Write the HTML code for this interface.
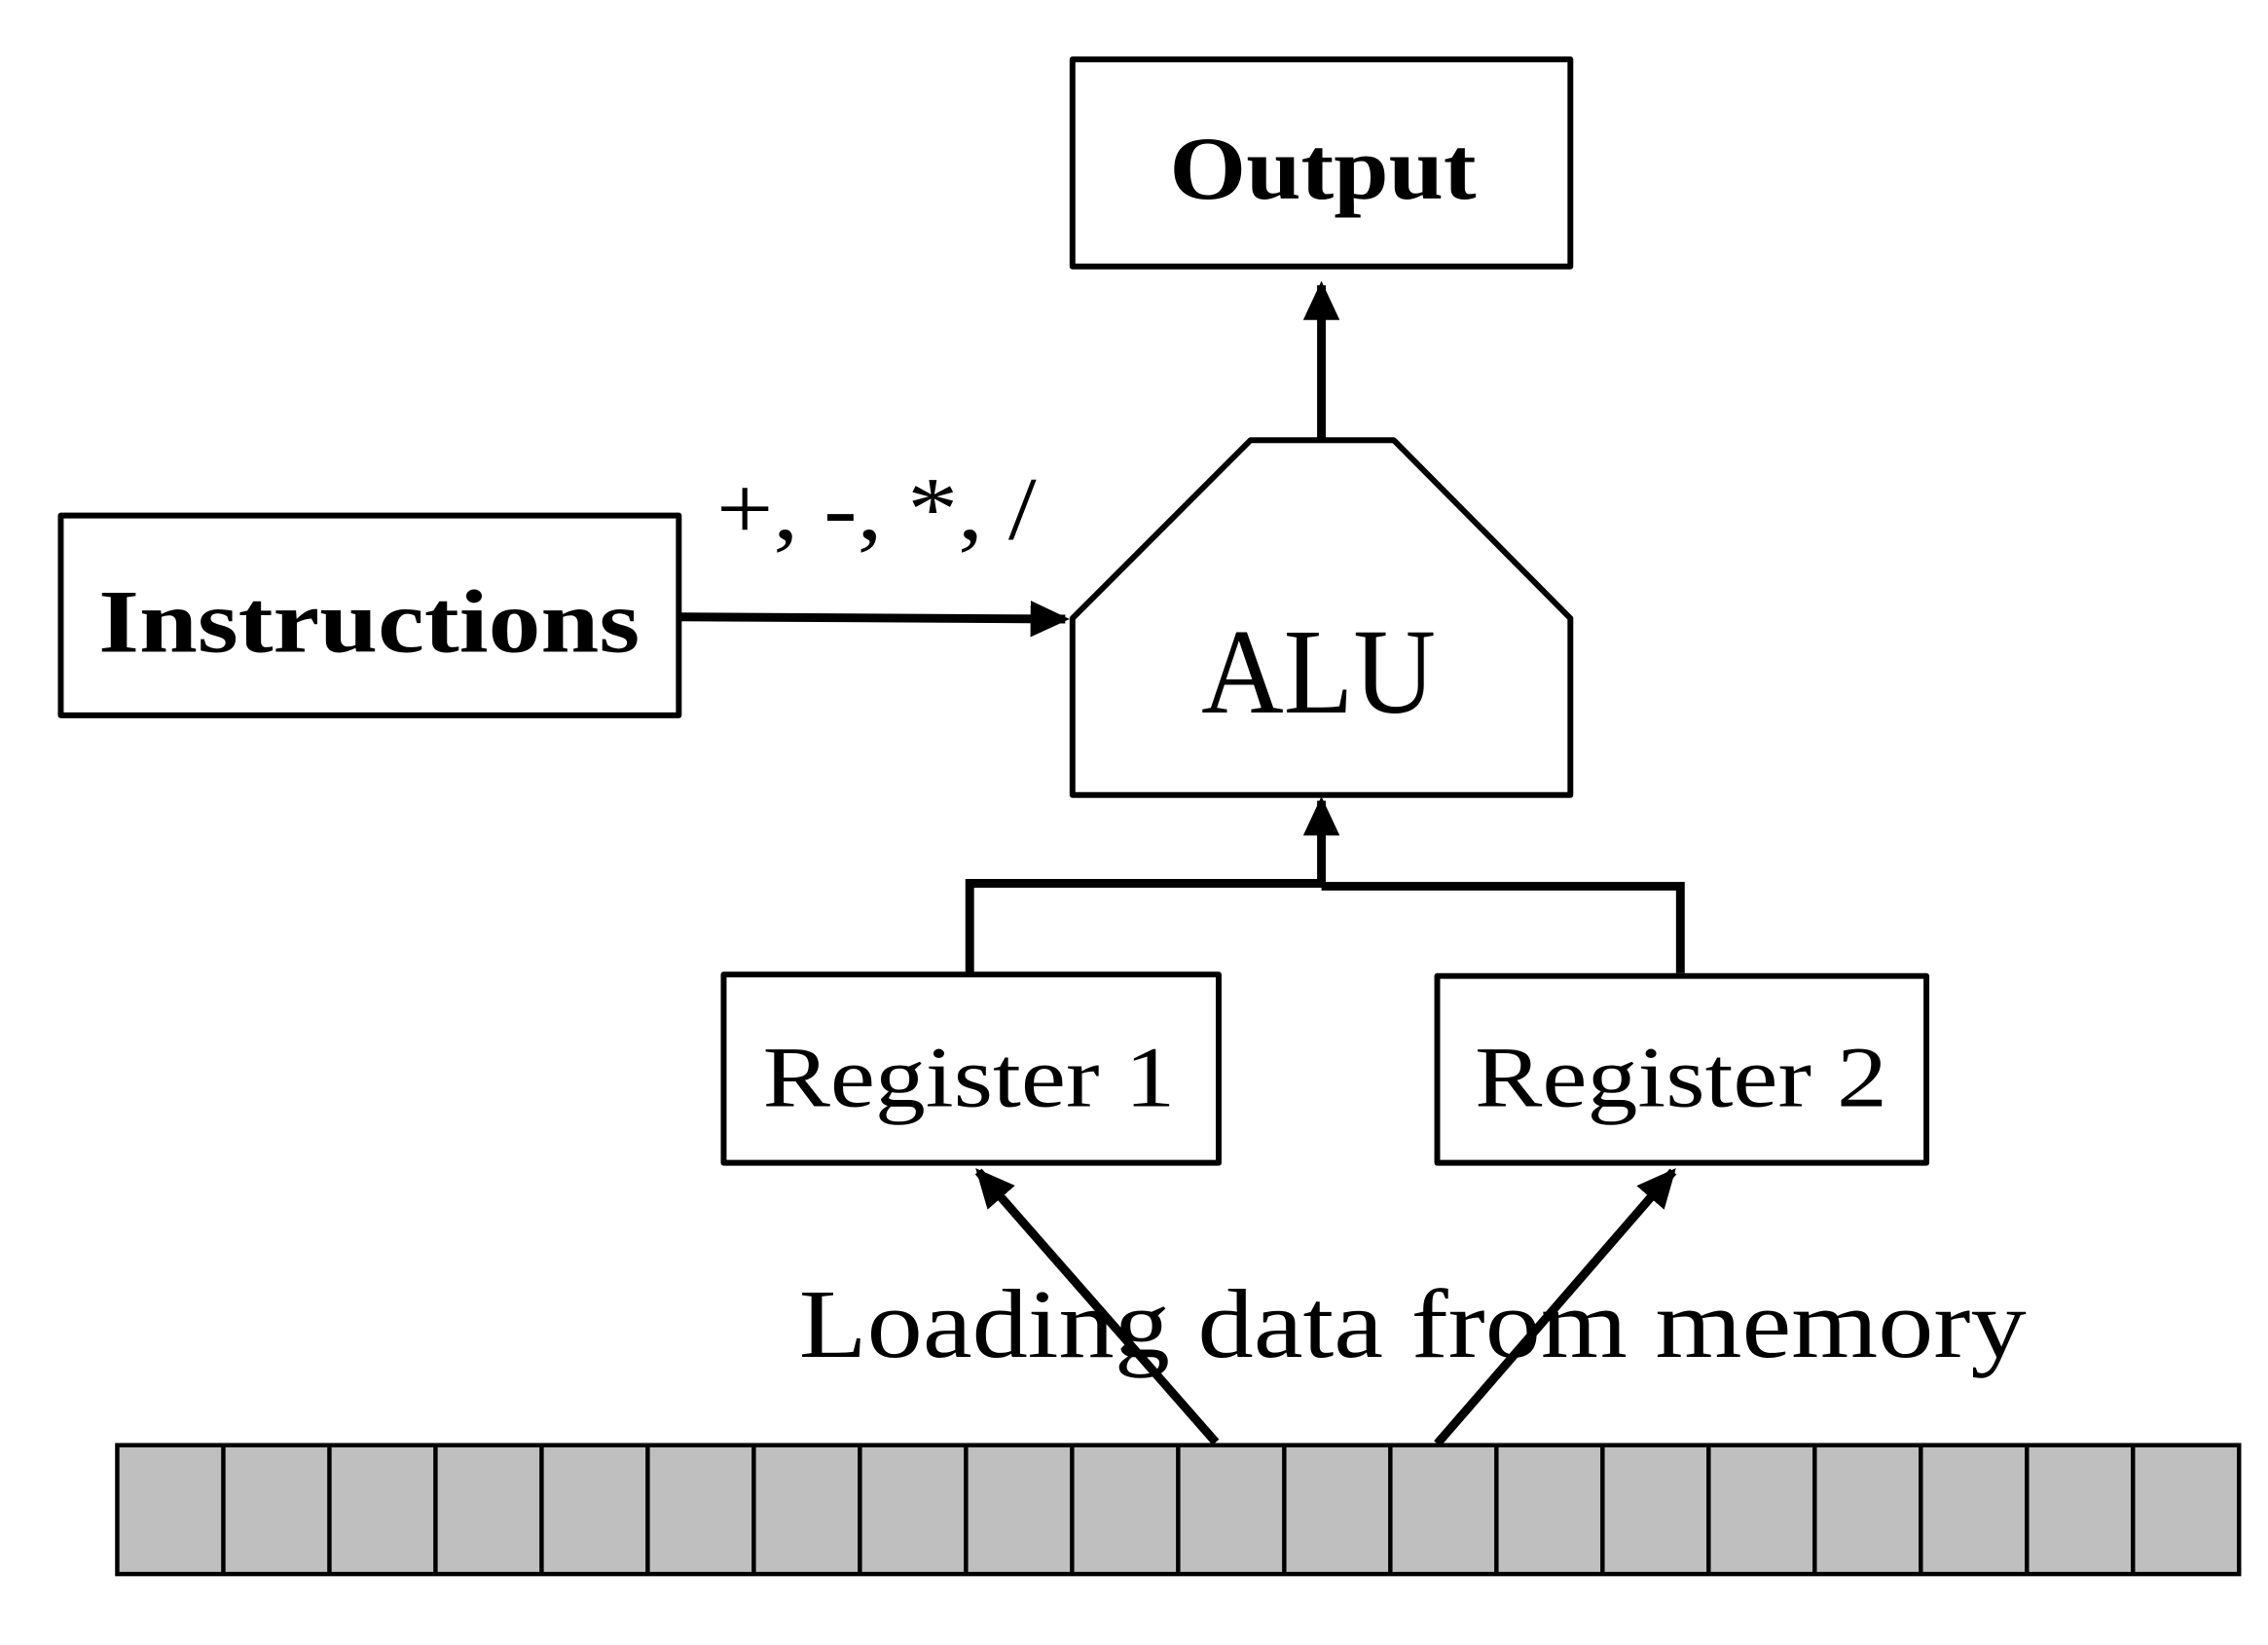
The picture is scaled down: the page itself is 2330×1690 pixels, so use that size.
<!DOCTYPE html>
<html><head><meta charset="utf-8"><style>
html,body{margin:0;padding:0;background:#fff;}
svg{display:block;}
text{font-family:"Liberation Serif",serif;fill:#000;}
</style></head><body>
<svg width="2330" height="1690" viewBox="0 0 1567 1136" preserveAspectRatio="none" xmlns="http://www.w3.org/2000/svg">
<defs>
<marker id="ah" markerWidth="5" markerHeight="5" refX="4" refY="2.5" orient="auto" markerUnits="strokeWidth">
<path d="M0,0.4 L4.5,2.5 L0,4.6 z" fill="#000"/>
</marker>
</defs>
<g fill="none" stroke="#000" stroke-width="4" stroke-linejoin="round">
<rect x="741" y="41" width="344" height="143"/>
<polygon points="741,427 864,304 963,304 1085,427 1085,549 741,549"/>
<rect x="42" y="356" width="427" height="138"/>
<rect x="500" y="673" width="342" height="130"/>
<rect x="993" y="674" width="338" height="129"/>
</g>
<g fill="none" stroke="#000" stroke-width="6">
<line x1="913" y1="303" x2="913" y2="197" marker-end="url(#ah)"/>
<line x1="469" y1="426" x2="736" y2="427.5" marker-end="url(#ah)"/>
<polyline points="670,672 670,610 913,610"/>
<polyline points="1161,672 1161,612 913,612"/>
<line x1="913" y1="611" x2="913" y2="553" marker-end="url(#ah)"/>
<line x1="840" y1="996" x2="676" y2="809" marker-end="url(#ah)"/>
<line x1="993" y1="997" x2="1156" y2="809" marker-end="url(#ah)"/>
</g>
<text x="808" y="137" font-size="62" font-weight="bold" textLength="212" lengthAdjust="spacingAndGlyphs">Output</text>
<text x="830" y="492" font-size="84" textLength="162" lengthAdjust="spacingAndGlyphs">ALU</text>
<text x="68" y="450" font-size="62" font-weight="bold" textLength="374" lengthAdjust="spacingAndGlyphs">Instructions</text>
<text x="495" y="372" font-size="62" textLength="221" lengthAdjust="spacingAndGlyphs">+, -, *, /</text>
<text x="527" y="764" font-size="60" textLength="285" lengthAdjust="spacingAndGlyphs">Register 1</text>
<text x="1019" y="764" font-size="60" textLength="285" lengthAdjust="spacingAndGlyphs">Register 2</text>
<text x="552" y="937" font-size="68" textLength="848" lengthAdjust="spacingAndGlyphs">Loading data from memory</text>
<g fill="#bfbfbf" stroke="#000" stroke-width="3">
<rect x="81" y="998" width="1466" height="89"/>
</g>
<g stroke="#000" stroke-width="3">
<line x1="154.3" y1="998" x2="154.3" y2="1087"/><line x1="227.6" y1="998" x2="227.6" y2="1087"/>
<line x1="300.9" y1="998" x2="300.9" y2="1087"/><line x1="374.2" y1="998" x2="374.2" y2="1087"/>
<line x1="447.5" y1="998" x2="447.5" y2="1087"/><line x1="520.8" y1="998" x2="520.8" y2="1087"/>
<line x1="594.1" y1="998" x2="594.1" y2="1087"/><line x1="667.4" y1="998" x2="667.4" y2="1087"/>
<line x1="740.7" y1="998" x2="740.7" y2="1087"/><line x1="814" y1="998" x2="814" y2="1087"/>
<line x1="887.3" y1="998" x2="887.3" y2="1087"/><line x1="960.6" y1="998" x2="960.6" y2="1087"/>
<line x1="1033.9" y1="998" x2="1033.9" y2="1087"/><line x1="1107.2" y1="998" x2="1107.2" y2="1087"/>
<line x1="1180.5" y1="998" x2="1180.5" y2="1087"/><line x1="1253.8" y1="998" x2="1253.8" y2="1087"/>
<line x1="1327.1" y1="998" x2="1327.1" y2="1087"/><line x1="1400.4" y1="998" x2="1400.4" y2="1087"/>
<line x1="1473.7" y1="998" x2="1473.7" y2="1087"/>
</g>
</svg>
</body></html>
